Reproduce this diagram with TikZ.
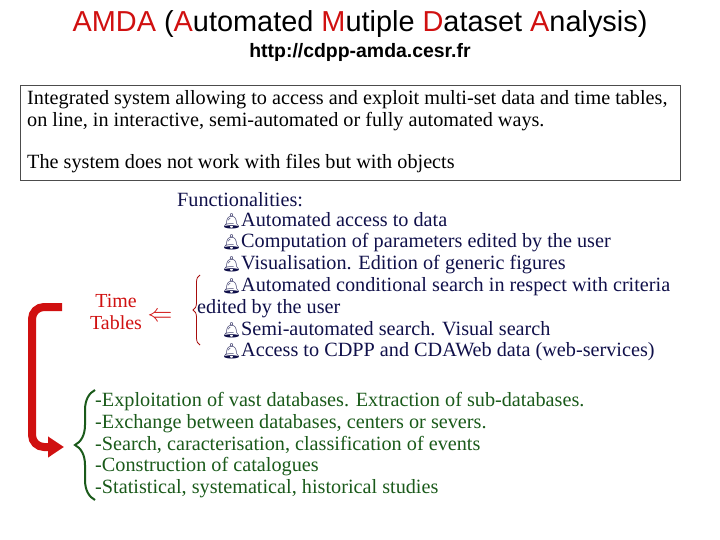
\documentclass[tikz,border=0pt]{standalone}
\usepackage{fontspec}
\setmainfont{Liberation Serif}
\newfontfamily\hsans{Liberation Sans}
\newfontfamily\emo{Noto Emoji}
\usetikzlibrary{decorations.pathreplacing,arrows.meta}
\definecolor{navy}{HTML}{10104A}
\definecolor{tred}{HTML}{D01010}
\definecolor{gre}{HTML}{1A5A1A}
\newcommand{\bl}{{\emo\fontsize{15}{15}\selectfont 🔔}}
\tikzset{txt/.style={anchor=west,inner sep=0,font=\fontsize{20.3}{20}\selectfont,text=navy},
 gtxt/.style={anchor=west,inner sep=0,font=\fontsize{20.3}{20}\selectfont,text=gre}}
\begin{document}
\begin{tikzpicture}[x=1bp,y=-1bp]
\useasboundingbox (0,0) rectangle (720,540);
\node[inner sep=0,font=\hsans\fontsize{29}{29}\selectfont] (title) at (360,24) {\textcolor{tred}{AMDA} (\textcolor{tred}{A}utomated \textcolor{tred}{M}utiple \textcolor{tred}{D}ataset \textcolor{tred}{A}nalysis)};
\node[inner sep=0,font=\hsans\bfseries\fontsize{19.5}{19.5}\selectfont] (url) at (360,52) {http://cdpp-amda.cesr.fr};
\node[draw=black!70,line width=1bp,minimum width=660bp,minimum height=95bp,anchor=north west,inner sep=0] (box) at (20,85) {};
\node[txt,text=black] (b1) at (27,100) {Integrated system allowing to access and exploit multi-set data and time tables,};
\node[txt,text=black] (b2) at (27,122) {on line, in interactive, semi-automated or fully automated ways.};
\node[txt,text=black] (b3) at (27,164) {The system does not work with files but with objects};
\node[txt] (f0) at (177,200) {Functionalities:};
\node[txt] (f1) at (222,221) {\bl Automated access to data};
\node[txt] (f2) at (222,243) {\bl Computation of parameters edited by the user};
\node[txt] (f3) at (222,265) {\bl Visualisation. Edition of generic figures};
\node[txt,text width=470bp,align=justify] (f4) at (222,287) {\bl Automated conditional search in respect with criteria\hfill\hbox{}};
\node[txt] (f5) at (197,309) {edited by the user};
\node[txt] (f6) at (222,330) {\bl Semi-automated search. Visual search};
\node[txt] (f7) at (222,352) {\bl Access to CDPP and CDAWeb data (web-services)};
\node[inner sep=0,align=center,text=tred,font=\fontsize{20}{23}\selectfont] (tt) at (116,312) {Time\\Tables};
\node[inner sep=0,text=tred,font=\fontsize{24}{24}\selectfont] (arr) at (160,317) {$\Leftarrow$};
\draw[tred!80!black,line width=0.8bp,decorate,decoration={brace,amplitude=7bp}] (200,345) -- (200,275);
\draw[tred,line width=8bp,-{Triangle[length=16bp,width=20bp]},rounded corners=12bp] (62,307) -- (32,307) -- (32,447) -- (64,447);
\draw[gre,line width=2bp,decorate,decoration={brace,amplitude=20bp}] (95,500) -- (95,390);
\node[gtxt] (g1) at (95,402) {-Exploitation of vast databases. Extraction of sub-databases.};
\node[gtxt] (g2) at (95,424) {-Exchange between databases, centers or severs.};
\node[gtxt] (g3) at (95,445) {-Search, caracterisation, classification of events};
\node[gtxt] (g4) at (95,467) {-Construction of catalogues};
\node[gtxt] (g5) at (95,489) {-Statistical, systematical, historical studies};
\end{tikzpicture}
\end{document}
